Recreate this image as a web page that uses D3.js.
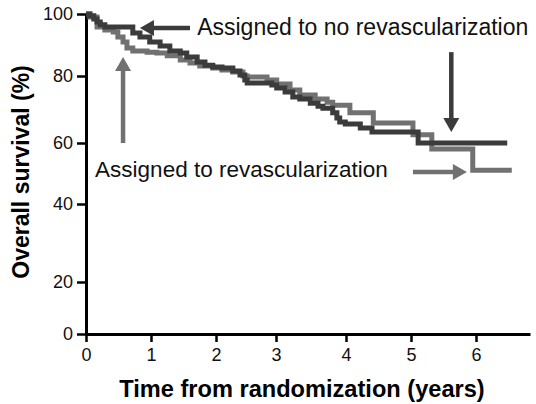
<!DOCTYPE html>
<html>
<head>
<meta charset="utf-8">
<script src="https://cdn.jsdelivr.net/npm/d3@7"></script>
<style>
  html, body { margin: 0; padding: 0; background: #fff; }
  svg { display: block; font-family: Arial, "Liberation Sans", sans-serif; }
</style>
</head>
<body>
<svg id="chart" width="536" height="404"></svg>
<script>
// ---- data ----
const xTicks = [0, 1, 2, 3, 4, 5, 6];
const yTicks = [0, 20, 40, 60, 80, 100];

// Assigned to no revascularization (years, % survival)
const noRevascTime = [0, 0.06, 0.12, 0.17, 0.22, 0.29, 0.72, 0.83, 0.98, 1.14, 1.29, 1.45, 1.55, 1.71, 1.83, 1.95, 2.10, 2.28, 2.40, 2.48, 2.52, 2.93, 3.01, 3.13, 3.24, 3.34, 3.49, 3.60, 3.67, 3.81, 3.87, 3.91, 3.99, 4.22, 4.40, 5.11, 6.48];
const noRevascSurv = [100, 99.4, 98.4, 97.4, 96.5, 95.8, 93.9, 92.6, 91.0, 89.7, 88.1, 87.4, 86.1, 84.5, 83.5, 82.9, 82.6, 81.6, 80.3, 78.8, 77.9, 77.3, 76.4, 75.2, 73.7, 73.1, 71.9, 71.0, 70.4, 69.0, 67.5, 66.3, 65.7, 64.5, 63.3, 60.0, 60.0];

// Assigned to revascularization (years, % survival)
const revascTime = [0, 0.06, 0.17, 0.29, 0.42, 0.49, 0.57, 0.63, 0.72, 0.94, 1.09, 1.25, 1.45, 1.60, 1.75, 1.95, 2.10, 2.28, 2.45, 2.52, 2.85, 3.01, 3.20, 3.34, 3.56, 3.73, 3.81, 4.06, 4.42, 5.03, 5.32, 5.95, 6.55];
const revascSurv = [100, 99.0, 95.8, 94.8, 94.2, 92.6, 91.0, 89.0, 88.1, 87.7, 87.4, 86.5, 85.2, 84.2, 83.2, 82.6, 81.9, 81.3, 80.0, 79.7, 78.8, 77.6, 75.8, 74.3, 73.1, 72.2, 71.3, 69.0, 66.0, 62.5, 58.0, 51.1, 51.1];

// annotation texts and arrows (data units)
const labelText = ["Assigned to no revascularization", "Assigned to revascularization"];
const labelX = [1.71, 0.14];
const labelY = [93.2, 48.9];
const labelSize = [23, 22.5];
const arrowX1 = [1.60, 5.62, 0.57, 5.03];
const arrowY1 = [95.5, 87.7, 60.0, 50.5];
const arrowX2 = [0.83, 5.62, 0.57, 5.86];
const arrowY2 = [95.5, 63.3, 86.1, 50.5];
const arrowSeries = ["no", "no", "rev", "rev"];

// ---- chart ----
const svg = d3.select("#chart");
const darkCol = "#3b3b3b";
const grayCol = "#717171";
const colorOf = s => s === "no" ? darkCol : grayCol;

const x = d3.scaleLinear()
  .domain([0, 1, 2, 3, 4, 5, 6, 6.83])
  .range([86, 151, 216, 276, 346, 411, 476, 530]);
const y = d3.scaleLinear()
  .domain([0, 20, 40, 60, 80, 100])
  .range([334, 282, 204, 143, 76, 14]);

// axes
const yAxis = svg.append("g")
  .attr("transform", "translate(86,0)")
  .call(d3.axisLeft(y).tickValues(yTicks).tickFormat(d3.format("d")).tickSize(9).tickSizeOuter(0).tickPadding(4));
const xAxis = svg.append("g")
  .attr("transform", "translate(0,334)")
  .call(d3.axisBottom(x).tickValues(xTicks).tickFormat(d3.format("d")).tickSize(8).tickSizeOuter(0).tickPadding(6));

[xAxis, yAxis].forEach(g => {
  g.select(".domain").attr("stroke", "#000").attr("stroke-width", 3);
  g.selectAll(".tick line").attr("stroke", "#000").attr("stroke-width", 2.5);
  g.selectAll(".tick text").attr("fill", "#111").style("font-size", "18px")
    .style("font-family", "Arial, 'Liberation Sans', sans-serif");
});

// curves
const line = d3.line()
  .x(d => x(d[0]))
  .y(d => y(d[1]))
  .curve(d3.curveStepAfter);

const series = [
  { id: "rev", pts: revascTime.map((t, i) => [t, revascSurv[i]]) },
  { id: "no", pts: noRevascTime.map((t, i) => [t, noRevascSurv[i]]) }
];
svg.append("g").selectAll("path")
  .data(series)
  .join("path")
  .attr("d", d => line(d.pts))
  .attr("fill", "none")
  .attr("stroke", d => colorOf(d.id))
  .attr("stroke-width", 5)
  .attr("stroke-linejoin", "miter");

// arrows
const arrows = arrowX1.map((v, i) => ({
  x1: x(v), y1: y(arrowY1[i]), x2: x(arrowX2[i]), y2: y(arrowY2[i]), s: arrowSeries[i]
}));
const headLen = 14, headHalf = 8;
const ag = svg.append("g");
arrows.forEach(a => {
  const dx = a.x2 - a.x1, dy = a.y2 - a.y1;
  const L = Math.hypot(dx, dy);
  const ux = dx / L, uy = dy / L;
  const bx = a.x2 - ux * headLen, by = a.y2 - uy * headLen;
  ag.append("line")
    .attr("x1", a.x1).attr("y1", a.y1).attr("x2", bx + ux).attr("y2", by + uy)
    .attr("stroke", colorOf(a.s)).attr("stroke-width", 4.5);
  ag.append("path")
    .attr("d", `M${a.x2},${a.y2}L${bx - uy * headHalf},${by + ux * headHalf}L${bx + uy * headHalf},${by - ux * headHalf}Z`)
    .attr("fill", colorOf(a.s));
});

// labels
svg.append("g").selectAll("text")
  .data(labelText)
  .join("text")
  .attr("x", (d, i) => x(labelX[i]))
  .attr("y", (d, i) => y(labelY[i]))
  .attr("fill", "#111")
  .style("font-size", (d, i) => labelSize[i] + "px")
  .text(d => d);

// axis titles
svg.append("text")
  .attr("x", 302).attr("y", 397)
  .attr("text-anchor", "middle")
  .style("font-size", "23.6px").style("font-weight", "bold")
  .attr("fill", "#000")
  .text("Time from randomization (years)");
svg.append("text")
  .attr("transform", "translate(29,172) rotate(-90)")
  .attr("text-anchor", "middle")
  .style("font-size", "23px").style("font-weight", "bold")
  .attr("fill", "#000")
  .text("Overall survival (%)");
</script>
</body>
</html>
